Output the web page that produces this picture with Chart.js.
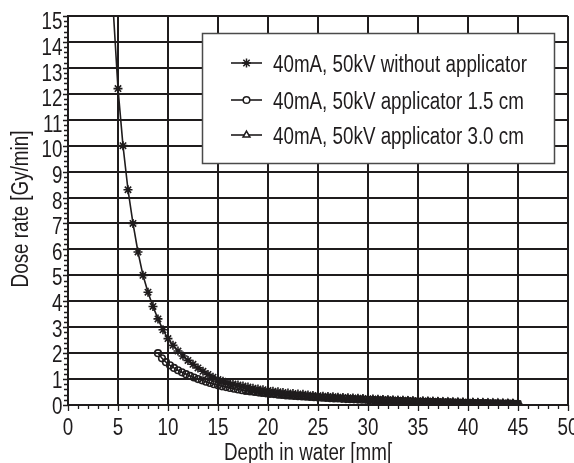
<!DOCTYPE html>
<html>
<head>
<meta charset="utf-8">
<script src="https://cdn.jsdelivr.net/npm/chart.js@4"></script>
<style>
html,body{margin:0;padding:0;background:#fff;}
#wrap{width:574px;height:463px;position:relative;}
</style>
</head>
<body>
<div id="wrap"><canvas id="c" width="574" height="463"></canvas></div>
<script>
// ---- data ----
const seriesNames = [
  "40mA, 50kV without applicator",
  "40mA, 50kV applicator 1.5 cm",
  "40mA, 50kV applicator 3.0 cm"
];
const xTitle = "Depth in water [mm[";
const yTitle = "Dose rate [Gy/min]";
const xTickLabels = [0,5,10,15,20,25,30,35,40,45,50];
const yTickLabels = [0,1,2,3,4,5,6,7,8,9,10,11,12,13,14,15];

const depthNoApp = [4.5,5,5.5,6,6.5,7,7.5,8,8.5,9,9.5,10,10.5,11,11.5,12,12.5,13,13.5,14,14.5,15,
  15.5,16,16.5,17,17.5,18,18.5,19,19.5,20,20.5,21,21.5,22,22.5,23,23.5,24,24.5,25,25.5,26,26.5,27,27.5,28,28.5,29,29.5,30,
  30.5,31,31.5,32,32.5,33,33.5,34,34.5,35,35.5,36,36.5,37,37.5,38,38.5,39,39.5,40,40.5,41,41.5,42,42.5,43,43.5,44,44.5,45];
const doseNoApp = [15.4,12.2,10.0,8.3,7.0,5.9,5.0,4.35,3.8,3.32,2.9,2.56,2.3,2.08,1.89,1.72,1.57,1.43,1.3,1.18,1.07,0.98,
  0.92,0.86,0.81,0.77,0.73,0.69,0.65,0.62,0.59,0.56,0.53,0.51,0.48,0.46,0.44,0.42,0.41,0.39,0.37,0.36,0.34,0.33,0.32,0.30,0.29,0.28,0.27,0.26,0.25,0.24,
  0.23,0.22,0.21,0.20,0.19,0.185,0.18,0.17,0.165,0.16,0.15,0.145,0.14,0.135,0.13,0.12,0.115,0.11,0.105,0.10,0.095,0.09,0.085,0.08,0.075,0.07,0.065,0.06,0.055,0.05];

const depthApp15 = [9.0,9.4,9.8,10.2,10.6,11.0,11.4,11.8,12.2,12.6,13.0,13.4,13.8,14.2,14.6,15.0,
  15.4,15.8,16.2,16.6,17.0,17.4,17.8,18.2,18.6,19.0,19.4,19.8,20.2,20.6,21.0,21.4,21.8,22.2,22.6,23.0,23.4,23.8,24.2,24.6,25.0,
  25.4,25.8,26.2,26.6,27.0,27.4,27.8,28.2,28.6,29.0,29.4,29.8,30.2,30.6,31.0,31.4,31.8,32.2,32.6,33.0,33.4,33.8,34.2,34.6,35.0,
  35.4,35.8,36.2,36.6,37.0,37.4,37.8,38.2,38.6,39.0,39.4,39.8,40.2,40.6,41.0,41.4,41.8,42.2,42.6,43.0,43.4,43.8,44.2,44.6,45.0];
const doseApp15 = [2.0,1.8,1.65,1.53,1.43,1.34,1.26,1.19,1.12,1.06,1.0,0.95,0.9,0.85,0.8,0.76,
  0.72,0.69,0.66,0.63,0.6,0.57,0.55,0.53,0.51,0.49,0.47,0.45,0.43,0.42,0.40,0.39,0.37,0.36,0.35,0.34,0.33,0.32,0.31,0.30,0.29,
  0.28,0.27,0.26,0.255,0.25,0.24,0.23,0.225,0.22,0.21,0.205,0.2,0.19,0.185,0.18,0.175,0.17,0.165,0.16,0.155,0.15,0.145,0.14,0.135,0.13,
  0.126,0.122,0.118,0.114,0.11,0.106,0.102,0.098,0.094,0.09,0.087,0.084,0.081,0.078,0.075,0.072,0.069,0.066,0.063,0.06,0.057,0.054,0.051,0.048,0.045];

const depthApp30 = [18,18.5,19,19.5,20,20.5,21,21.5,22,22.5,23,23.5,24,24.5,25,25.5,26,26.5,27,27.5,28,28.5,29,29.5,30,
  30.5,31,31.5,32,32.5,33,33.5,34,34.5,35,35.5,36,36.5,37,37.5,38,38.5,39,39.5,40,40.5,41,41.5,42,42.5,43,43.5,44,44.5,45];
const doseApp30 = [0.5,0.48,0.46,0.44,0.42,0.40,0.385,0.37,0.355,0.34,0.33,0.32,0.305,0.295,0.285,0.275,0.265,0.255,0.245,0.235,0.228,0.22,0.212,0.205,0.198,
  0.19,0.183,0.177,0.17,0.164,0.158,0.152,0.147,0.142,0.137,0.132,0.127,0.122,0.118,0.113,0.109,0.105,0.101,0.097,0.093,0.089,0.085,0.081,0.078,0.074,0.07,0.066,0.062,0.058,0.055];

// ---- styling ----
const FONT = "23px 'Liberation Sans', Arial, sans-serif";
const INK = '#1f1c1d';

function pairs(xs, ys){ return xs.map((x,i)=>({x:x, y:ys[i]})); }

const datasets = [
  {label: seriesNames[0], data: pairs(depthNoApp, doseNoApp), pointStyle:'star', pointRadius:4.5},
  {label: seriesNames[1], data: pairs(depthApp15, doseApp15), pointStyle:'circle', pointRadius:3.3},
  {label: seriesNames[2], data: pairs(depthApp30, doseApp30), pointStyle:'triangle', pointRadius:4}
].map(d => Object.assign(d, {
  borderColor: INK, backgroundColor: '#ffffff', borderWidth: 1.6,
  pointBorderColor: INK, pointBackgroundColor: 'rgba(255,255,255,0)', pointBorderWidth: 1.6,
  pointHoverRadius: 0, tension: 0, fill: false
}));

const isInt = v => Math.abs(v - Math.round(v)) < 1e-6;
const isMult5 = v => isInt(v) && Math.round(v) % 5 === 0;

// Draws axis tick marks, tick labels, axis titles and the boxed legend with a condensed text face.
const textPlugin = {
  id: 'condensedText',
  afterDraw(chart){
    const ctx = chart.ctx, xs = chart.scales.x, ys = chart.scales.y, ca = chart.chartArea;
    ctx.save();
    ctx.font = FONT;
    const SX = 254 / ctx.measureText(seriesNames[0]).width;
    const txt = (s, x, y, align, rot) => {
      ctx.save();
      ctx.translate(x, y);
      if (rot) ctx.rotate(rot);
      ctx.scale(SX, 1);
      ctx.font = FONT;
      ctx.fillStyle = INK;
      ctx.textAlign = align;
      ctx.textBaseline = 'alphabetic';
      ctx.fillText(s, 0, 0);
      ctx.restore();
    };
    // tick marks
    ctx.strokeStyle = INK;
    ctx.lineWidth = 1.3;
    ctx.beginPath();
    xs.ticks.forEach(t => {
      const px = Math.round(xs.getPixelForValue(t.value)) + 0.5;
      const len = isMult5(t.value) ? 6 : 4;
      ctx.moveTo(px, ca.bottom); ctx.lineTo(px, ca.bottom + len);
    });
    ys.ticks.forEach(t => {
      const py = Math.round(ys.getPixelForValue(t.value)) + 0.5;
      const len = isInt(t.value) ? 5 : 4;
      ctx.moveTo(ca.left, py); ctx.lineTo(ca.left - len, py);
    });
    ctx.stroke();
    // tick labels
    xTickLabels.forEach(v => txt(String(v), xs.getPixelForValue(v), ca.bottom + 30, 'center'));
    yTickLabels.forEach(v => txt(String(v), ca.left - 5.5, ys.getPixelForValue(v) + 8.5 + v * 0.33, 'right'));
    // axis titles
    txt(xTitle, 308, 460, 'center');
    txt(yTitle, 28, 209, 'center', -Math.PI / 2);
    // legend
    const bx = 202.5, by = 33.5, bw = 352, bh = 130;
    ctx.fillStyle = '#fff';
    ctx.fillRect(bx, by, bw, bh);
    ctx.strokeStyle = '#4a4a4a';
    ctx.lineWidth = 1.5;
    ctx.strokeRect(bx, by, bw, bh);
    const rows = [63, 100, 135];
    chart.data.datasets.forEach((ds, i) => {
      const y = rows[i];
      ctx.strokeStyle = INK; ctx.lineWidth = 1.6;
      ctx.beginPath(); ctx.moveTo(231, y); ctx.lineTo(262, y); ctx.stroke();
      ctx.fillStyle = '#fff';
      ctx.lineWidth = 1.5;
      Chart.helpers.drawPoint(ctx, {pointStyle: ds.pointStyle, radius: ds.pointRadius, borderWidth: 1.5, rotation: 0}, 246.5, y);
      txt(ds.label, 273, y + 8.5, 'left');
    });
    ctx.restore();
  }
};

new Chart(document.getElementById('c'), {
  type: 'line',
  data: { datasets },
  plugins: [textPlugin],
  options: {
    responsive: false,
    animation: false,
    devicePixelRatio: 1,
    layout: { padding: { top: 16, right: 5, left: 0, bottom: 0 } },
    plugins: { legend: { display: false }, tooltip: { enabled: false } },
    scales: {
      x: {
        type: 'linear', min: 0, max: 50,
        border: { display: true, color: INK, width: 2 },
        grid: {
          color: c => isMult5(c.tick.value) ? INK : 'rgba(0,0,0,0)',
          lineWidth: 2,
          drawTicks: false
        },
        ticks: { stepSize: 1, autoSkip: false, display: false },
        title: { display: false },
        afterFit: s => { s.height = 58; s.paddingLeft = 0; s.paddingRight = 0; }
      },
      y: {
        type: 'linear', min: 0, max: 15,
        border: { display: true, color: INK, width: 2 },
        grid: {
          color: c => isInt(c.tick.value) ? INK : 'rgba(0,0,0,0)',
          lineWidth: 2,
          drawTicks: false
        },
        ticks: { stepSize: 0.2, autoSkip: false, display: false },
        title: { display: false },
        afterFit: s => { s.width = 68; s.paddingTop = 0; s.paddingBottom = 0; }
      }
    }
  }
});
</script>
</body>
</html>
